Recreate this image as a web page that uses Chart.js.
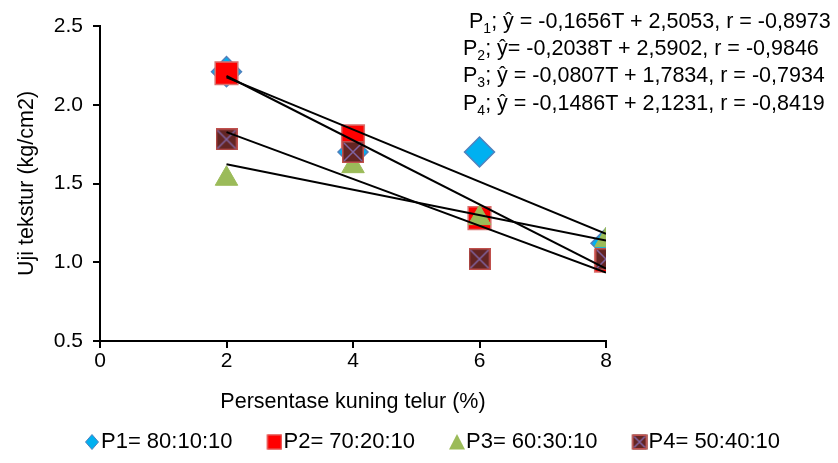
<!DOCTYPE html>
<html>
<head>
<meta charset="utf-8">
<script src="https://cdn.jsdelivr.net/npm/chart.js@4.4.1/dist/chart.umd.min.js"></script>
<style>
  html, body { margin: 0; padding: 0; background: #fff; }
  #wrap { position: relative; width: 838px; height: 463px; }
  #eq {
    position: absolute; left: 463px; top: 8px;
    font-family: "Liberation Sans", Arial, sans-serif;
    font-size: 21.5px; line-height: 27.2px; color: #000; white-space: nowrap;
  }
  #eq sub { font-size: 14px; line-height: 0; vertical-align: -5px; }
</style>
</head>
<body>
<div id="wrap">
  <canvas id="myChart" width="838" height="463"></canvas>
  <div id="eq"></div>
</div>
<script>
const xValues = [2, 4, 6, 8];
const seriesNames = ["P1= 80:10:10", "P2= 70:20:10", "P3= 60:30:10", "P4= 50:40:10"];
const p1 = [2.21, 1.70, 1.70, 1.12];
const p2 = [2.20, 1.80, 1.28, 1.01];
const p3 = [1.53, 1.61, 1.28, 1.14];
const p4 = [1.78, 1.70, 1.02, 1.02];

// regression lines as printed in the figure
const slopes = [-0.1656, -0.2038, -0.0807, -0.1486];
const intercepts = [2.5053, 2.5902, 1.7834, 2.1231];
const rValues = ["-0,8973", "-0,9846", "-0,7934", "-0,8419"];
const slopeText = ["-0,1656", "-0,2038", "-0,0807", "-0,1486"];
const interceptText = ["2,5053", "2,5902", "1,7834", "2,1231"];

const FONT = "'Liberation Sans', Arial, sans-serif";

function crossSquare(g, cx, cy, size) {
  const h = size / 2;
  g.fillStyle = "#632523";
  g.fillRect(cx - h, cy - h, size, size);
  g.strokeStyle = "#c0504d";
  g.lineWidth = 1.5;
  g.strokeRect(cx - h + 0.75, cy - h + 0.75, size - 1.5, size - 1.5);
  g.strokeStyle = "#8064a2";
  g.beginPath();
  g.moveTo(cx - h + 2, cy - h + 2); g.lineTo(cx + h - 2, cy + h - 2);
  g.moveTo(cx + h - 2, cy - h + 2); g.lineTo(cx - h + 2, cy + h - 2);
  g.stroke();
}

function p4Point(size) {
  const c = document.createElement("canvas");
  c.width = size; c.height = size;
  crossSquare(c.getContext("2d"), size / 2, size / 2, size);
  return c;
}

// legend icons: wide transparent canvas, marker sits at the right end, next to the text
const LEG_W = 32;
function legendIcon(draw) {
  const c = document.createElement("canvas");
  c.width = 52; c.height = 20;
  const g = c.getContext("2d");
  draw(g, 44, 10);
  return c;
}

const legendIcons = [
  legendIcon((g, x, y) => {
    g.beginPath();
    g.moveTo(x, y - 7.5); g.lineTo(x + 6.5, y); g.lineTo(x, y + 7.5); g.lineTo(x - 6.5, y); g.closePath();
    g.fillStyle = "#00b0f0"; g.fill();
    g.strokeStyle = "#4f81bd"; g.lineWidth = 1; g.stroke();
  }),
  legendIcon((g, x, y) => {
    g.fillStyle = "#ff0000"; g.fillRect(x - 7.5, y - 7.5, 15, 15);
    g.strokeStyle = "#d9706d"; g.lineWidth = 1; g.strokeRect(x - 7, y - 7, 14, 14);
  }),
  legendIcon((g, x, y) => {
    g.beginPath();
    g.moveTo(x, y - 8); g.lineTo(x + 8, y + 7.5); g.lineTo(x - 8, y + 7.5); g.closePath();
    g.fillStyle = "#9bbb59"; g.fill();
  }),
  legendIcon((g, x, y) => crossSquare(g, x, y, 15)),
];

function pts(ys) {
  return xValues.map((x, i) => ({ x: x, y: ys[i] }));
}

function trend(i) {
  const x0 = xValues[0], x1 = xValues[xValues.length - 1];
  return [
    { x: x0, y: slopes[i] * x0 + intercepts[i] },
    { x: x1, y: slopes[i] * x1 + intercepts[i] },
  ];
}

const datasets = [
  { label: seriesNames[0], data: pts(p1), pointStyle: "rectRot", pointRadius: 15, pointHoverRadius: 15,
    backgroundColor: "#00b0f0", borderColor: "#4f81bd", borderWidth: 1.5, order: 4 },
  { label: seriesNames[1], data: pts(p2), pointStyle: "rect", pointRadius: 16, pointHoverRadius: 16,
    backgroundColor: "#ff0000", borderColor: "#d9706d", borderWidth: 1.5, order: 3 },
  { label: seriesNames[2], data: pts(p3), pointStyle: "triangle", pointRadius: 13, pointHoverRadius: 13,
    backgroundColor: "#9bbb59", borderColor: "#9bbb59", borderWidth: 1, order: 2 },
  { label: seriesNames[3], data: pts(p4), pointStyle: p4Point(22),
    backgroundColor: "#632523", borderColor: "#c0504d", order: 1 },
];

for (let i = 0; i < 4; i++) {
  datasets.push({
    type: "line", label: "trend" + i, data: trend(i), showLine: true,
    borderColor: "#000", borderWidth: 2, pointRadius: 0, fill: false, order: 0,
  });
}

const ctx = document.getElementById("myChart");

const chart = new Chart(ctx, {
  type: "scatter",
  data: { datasets: datasets },
  options: {
    responsive: false,
    animation: false,
    layout: { padding: { top: 26, left: 0, right: 0, bottom: 0 } },
    plugins: {
      tooltip: { enabled: false },
      legend: {
        position: "bottom",
        labels: {
          usePointStyle: true,
          pointStyleWidth: LEG_W,
          padding: 8,
          color: "#000",
          font: { family: FONT, size: 22 },
          filter: (item) => item.datasetIndex < 4,
          sort: (a, b) => a.datasetIndex - b.datasetIndex,
          generateLabels: (c) => {
            const items = Chart.defaults.plugins.legend.labels.generateLabels(c);
            items.forEach((it) => {
              if (it.datasetIndex < 4) it.pointStyle = legendIcons[it.datasetIndex];
            });
            return items;
          },
        },
      },
    },
    scales: {
      x: {
        type: "linear", min: 0, max: 8,
        ticks: { stepSize: 2, color: "#000", padding: 1, font: { family: FONT, size: 21 } },
        grid: { drawOnChartArea: false, drawTicks: true, tickLength: 7, color: "#000", lineWidth: 2 },
        border: { color: "#000", width: 2 },
        title: { display: true, text: "Persentase kuning telur (%)", color: "#000",
          font: { family: FONT, size: 21.5 }, padding: { top: 0, bottom: 8 } },
        afterFit: (s) => { s.height = 82; },
      },
      y: {
        type: "linear", min: 0.5, max: 2.5,
        ticks: { stepSize: 0.5, color: "#000", padding: 10, font: { family: FONT, size: 21 },
          callback: (v) => v.toFixed(1) },
        grid: { drawOnChartArea: false, drawTicks: true, tickLength: 7, color: "#000", lineWidth: 2 },
        border: { color: "#000", width: 2 },
        title: { display: true, text: "Uji tekstur (kg/cm2)", color: "#000",
          font: { family: FONT, size: 21.5 }, padding: { top: 14, bottom: 0 } },
        afterFit: (s) => { s.width = 100; },
      },
      yRight: {
        position: "right", display: true,
        ticks: { display: false },
        grid: { display: false, drawTicks: false },
        border: { display: false },
        afterFit: (s) => { s.width = 232; },
      },
    },
  },
});

// equation block (real text, with subscripts)
const eq = document.getElementById("eq");
eq.innerHTML = slopes.map((s, i) => {
  const pad = i === 0 ? "&nbsp;" : "";
  const eqSign = i === 1 ? "=" : " =";
  return pad + "P<sub>" + (i + 1) + "</sub>; ŷ" + eqSign + " " + slopeText[i] + "T + " +
    interceptText[i] + ", r = " + rValues[i];
}).join("<br>");
</script>
</body>
</html>
